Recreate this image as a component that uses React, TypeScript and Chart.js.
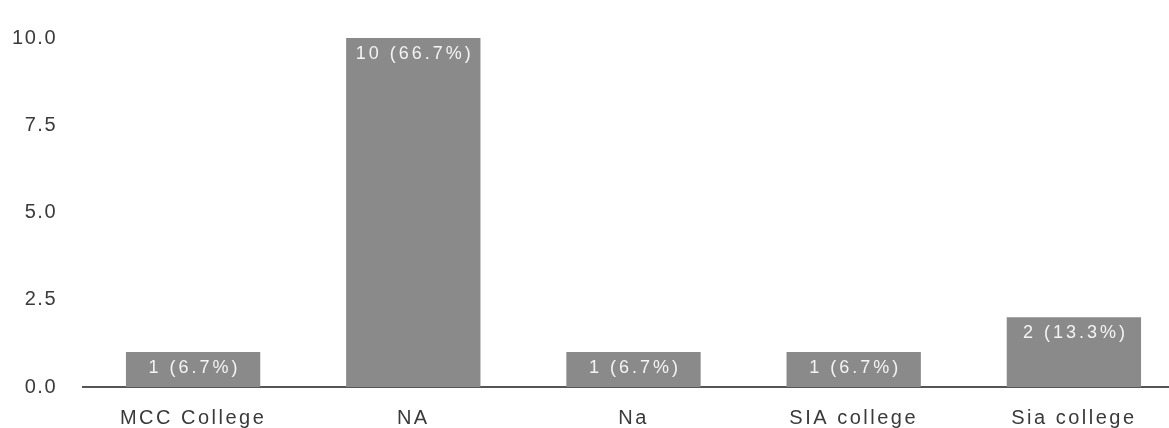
import React, { useEffect, useRef } from "react";
import { Chart, registerables } from "chart.js";

Chart.register(...registerables);

const categories = ["MCC College", "NA", "Na", "SIA college", "Sia college"];
const counts = [1, 10, 1, 1, 2];
const total = counts.reduce((a, b) => a + b, 0);
const barLabels = counts.map((c) => `${c} (${((c / total) * 100).toFixed(1)}%)`);
const yTicks = [0, 2.5, 5, 7.5, 10];

const BAR_COLOR = "#8a8a8a";
const TEXT_COLOR = "#3a3a3a";
const X_SPACING = "2.5px";
const Y_SPACING = "1.5px";

const spacingPlugin = {
  id: "letterSpacingPatch",
  beforeDraw(chart: any) {
    const apply = (id: string, sp: string) => {
      const s = chart.scales[id];
      if (!s || s.__patched) return;
      const orig = s.drawLabels;
      s.drawLabels = function (area: any) {
        const ctx = this.ctx;
        ctx.save();
        (ctx as any).letterSpacing = sp;
        orig.call(this, area);
        ctx.restore();
      };
      s.__patched = true;
    };
    apply("x", X_SPACING);
    apply("y", Y_SPACING);
  },
};

const barLabelPlugin = {
  id: "barLabels",
  afterDatasetsDraw(chart: any) {
    const ctx = chart.ctx;
    const meta = chart.getDatasetMeta(0);
    ctx.save();
    (ctx as any).letterSpacing = "3px";
    ctx.font = '18px "Liberation Sans", Arial, sans-serif';
    ctx.fillStyle = "#f4f4f4";
    ctx.textAlign = "center";
    ctx.textBaseline = "middle";
    meta.data.forEach((bar: any, i: number) => {
      ctx.fillText(barLabels[i], bar.x + 1.5, bar.y + 16);
    });
    ctx.restore();
  },
};

export default function App() {
  const ref = useRef<HTMLCanvasElement>(null);
  useEffect(() => {
    if (!ref.current) return;
    const chart = new Chart(ref.current, {
      type: "bar",
      data: {
        labels: categories,
        datasets: [
          {
            data: counts,
            backgroundColor: BAR_COLOR,
            borderWidth: 0,
            categoryPercentage: 1,
            barPercentage: 0.61,
          },
        ],
      },
      options: {
        animation: false,
        responsive: true,
        maintainAspectRatio: false,
        layout: { padding: { top: 27, left: 0, right: 0, bottom: 0 } },
        plugins: { legend: { display: false }, tooltip: { enabled: false } },
        scales: {
          x: {
            grid: { display: false, drawTicks: false },
            border: { display: true, color: "#555", width: 2 },
            ticks: {
              color: TEXT_COLOR,
              font: { family: '"Liberation Sans", Arial, sans-serif', size: 20 },
              padding: 19,
              maxRotation: 0,
              autoSkip: false,
            },
            afterFit(axis: any) {
              axis.height = 41;
            },
          },
          y: {
            min: 0,
            max: 10,
            grid: { display: false, drawTicks: false },
            border: { display: false },
            afterBuildTicks(axis: any) {
              axis.ticks = yTicks.map((v) => ({ value: v }));
            },
            ticks: {
              color: TEXT_COLOR,
              font: { family: '"Liberation Sans", Arial, sans-serif', size: 20 },
              padding: 26,
              callback: (v: any) => Number(v).toFixed(1),
            },
            afterFit(axis: any) {
              axis.width = 83;
            },
          },
        },
      },
      plugins: [spacingPlugin, barLabelPlugin],
    });
    return () => chart.destroy();
  }, []);

  return (
    <div
      style={{
        position: "fixed",
        left: 0,
        top: 0,
        width: 1169,
        height: 428,
        overflow: "hidden",
        background: "#fff",
      }}
    >
      <div style={{ position: "relative", width: 1184, height: 428 }}>
        <canvas ref={ref} />
      </div>
    </div>
  );
}
